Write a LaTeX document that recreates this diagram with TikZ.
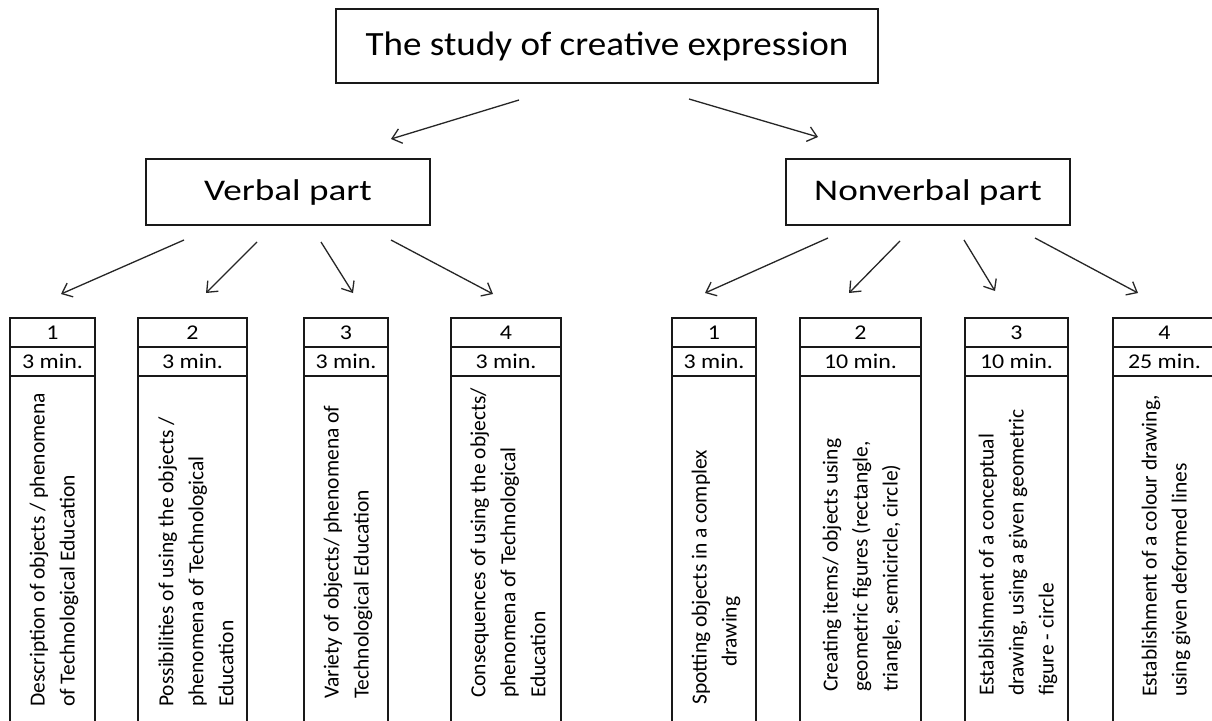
\documentclass[tikz,border=0pt]{standalone}
\usepackage{fontspec}
\usepackage{graphicx}
\setmainfont{Carlito}
\usetikzlibrary{arrows.meta}
\begin{document}
\begin{tikzpicture}[x=1pt,y=-1pt,
  box/.style={draw=black!90, line width=1.3pt, inner sep=0pt, outer sep=0pt},
  cell/.style={draw=black!90, line width=1.2pt, minimum height=29pt, inner sep=0pt, outer sep=0pt, font=\fontsize{21}{25}\selectfont},
  body/.style={draw=black!90, line width=1.2pt, inner sep=0pt, outer sep=0pt, minimum height=370pt, anchor=north},
  vtext/.style={rotate=90, anchor=west, align=left, inner sep=0pt, font=\fontsize{21.5}{30}\selectfont},
  arr/.style={draw=black!85, line width=1.3pt, -{Straight Barb[length=9pt,width=15pt]}}]
\useasboundingbox (0,0) rectangle (1212,720);
\clip (0,0) rectangle (1212,720);
\fill[white] (0,0) rectangle (1212,720);

% top level
\node[box, minimum width=542pt, minimum height=74pt, font=\fontsize{34}{40}\selectfont] (top) at (607,46) {\raisebox{3pt}{\scalebox{1.09}[1]{The study of creative expression}}};
\node[box, minimum width=284pt, minimum height=66pt, font=\fontsize{30}{36}\selectfont] (verb) at (288,192) {\scalebox{1.24}[1]{Verbal part}};
\node[box, minimum width=284pt, minimum height=66pt, font=\fontsize{30}{36}\selectfont] (nonv) at (928,192) {\scalebox{1.24}[1]{Nonverbal part}};

% arrow end points
\coordinate (tvs) at (519,100); \coordinate (tve) at (391,139);
\coordinate (tns) at (689,99);  \coordinate (tne) at (818,137);
\coordinate (v1s) at (184,240); \coordinate (v1e) at (61,294);
\coordinate (v2s) at (257,242); \coordinate (v2e) at (206,293);
\coordinate (v3s) at (321,242); \coordinate (v3e) at (353,293);
\coordinate (v4s) at (391,240); \coordinate (v4e) at (493,294);
\coordinate (n1s) at (828,238); \coordinate (n1e) at (705,293);
\coordinate (n2s) at (900,241); \coordinate (n2e) at (849,293);
\coordinate (n3s) at (964,240); \coordinate (n3e) at (995,291);
\coordinate (n4s) at (1035,238);\coordinate (n4e) at (1138,293);

\draw[arr] (tvs) -- (tve);
\draw[arr] (tns) -- (tne);
\draw[arr] (v1s) -- (v1e);
\draw[arr] (v2s) -- (v2e);
\draw[arr] (v3s) -- (v3e);
\draw[arr] (v4s) -- (v4e);
\draw[arr] (n1s) -- (n1e);
\draw[arr] (n2s) -- (n2e);
\draw[arr] (n3s) -- (n3e);
\draw[arr] (n4s) -- (n4e);

% verbal columns
\node[body, minimum width=85pt] (v1c) at (52.5,376) {};
\node[cell, minimum width=85pt] (v1a) at (52.5,332.5) {\scalebox{1.14}[1]{1}};
\node[cell, minimum width=85pt] (v1b) at (52.5,361.5) {\scalebox{1.14}[1]{3 min.}};
\node[vtext] (v1t) at (54,707) {Description of objects / phenomena\\of Technological Education};

\node[body, minimum width=109pt] (v2c) at (192.5,376) {};
\node[cell, minimum width=109pt] (v2a) at (192.5,332.5) {\scalebox{1.14}[1]{2}};
\node[cell, minimum width=109pt] (v2b) at (192.5,361.5) {\scalebox{1.14}[1]{3 min.}};
\node[vtext] (v2t) at (196,707) {Possibilities of using the objects /\\phenomena of Technological\\Education};

\node[body, minimum width=84pt] (v3c) at (346,376) {};
\node[cell, minimum width=84pt] (v3a) at (346,332.5) {\scalebox{1.14}[1]{3}};
\node[cell, minimum width=84pt] (v3b) at (346,361.5) {\scalebox{1.14}[1]{3 min.}};
\node[vtext] (v3t) at (348,699) {Variety of objects/ phenomena of\\Technological Education};

\node[body, minimum width=110pt] (v4c) at (506,376) {};
\node[cell, minimum width=110pt] (v4a) at (506,332.5) {\scalebox{1.14}[1]{4}};
\node[cell, minimum width=110pt] (v4b) at (506,361.5) {\scalebox{1.14}[1]{3 min.}};
\node[vtext] (v4t) at (508,698) {Consequences of using the objects/\\phenomena of Technological\\Education};

% nonverbal columns
\node[body, minimum width=84pt] (n1c) at (714,376) {};
\node[cell, minimum width=84pt] (n1a) at (714,332.5) {\scalebox{1.14}[1]{1}};
\node[cell, minimum width=84pt] (n1b) at (714,361.5) {\scalebox{1.14}[1]{3 min.}};
\node[vtext] (n1t) at (716,705) {Spotting objects in a complex\\\hspace*{38pt}drawing};

\node[body, minimum width=121pt] (n2c) at (860.5,376) {};
\node[cell, minimum width=121pt] (n2a) at (860.5,332.5) {\scalebox{1.14}[1]{2}};
\node[cell, minimum width=121pt] (n2b) at (860.5,361.5) {\scalebox{1.14}[1]{10 min.}};
\node[vtext] (n2t) at (862,692) {Creating items/ objects using\\geometric figures (rectangle,\\triangle, semicircle, circle)};

\node[body, minimum width=103pt] (n3c) at (1016.5,376) {};
\node[cell, minimum width=103pt] (n3a) at (1016.5,332.5) {\scalebox{1.14}[1]{3}};
\node[cell, minimum width=103pt] (n3b) at (1016.5,361.5) {\scalebox{1.14}[1]{10 min.}};
\node[vtext] (n3t) at (1018,696) {Establishment of a conceptual\\drawing, using a given geometric\\figure - circle};

\node[body, minimum width=103pt] (n4c) at (1164.5,376) {};
\node[cell, minimum width=103pt] (n4a) at (1164.5,332.5) {\scalebox{1.14}[1]{4}};
\node[cell, minimum width=103pt] (n4b) at (1164.5,361.5) {\scalebox{1.14}[1]{25 min.}};
\node[vtext] (n4t) at (1166,697) {Establishment of a colour drawing,\\using given deformed lines};
\end{tikzpicture}
\end{document}
